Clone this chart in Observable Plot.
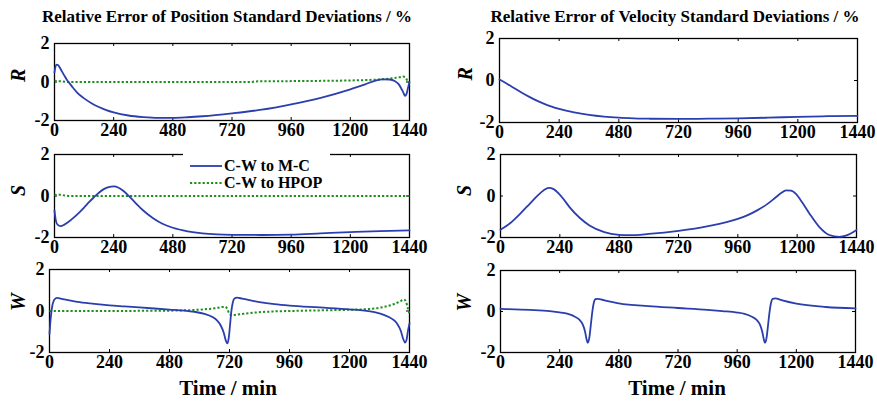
<!DOCTYPE html>
<html>
<head>
<meta charset="utf-8">
<script src="https://cdn.jsdelivr.net/npm/d3@7"></script>
<script src="https://cdn.jsdelivr.net/npm/@observablehq/plot@0.6"></script>
<style>
  html, body { margin: 0; padding: 0; background: #fff; }
  #root { position: relative; width: 877px; height: 402px; overflow: hidden; font-family: "Liberation Serif", "Times New Roman", serif; }
  .panel { position: absolute; }
  .title { position: absolute; font-weight: bold; font-size: 17px; line-height: 20px; white-space: nowrap; transform: translateX(-50%); }
  .xlab { position: absolute; font-weight: bold; font-size: 21px; line-height: 22px; white-space: nowrap; transform: translateX(-50%); }
  .legend { position: absolute; background: #fff; font-weight: bold; font-size: 16px; white-space: nowrap; }
  .legend div { display: flex; align-items: center; height: 17px; }
  .legend svg { margin-right: 2px; flex: none; }
</style>
</head>
<body>
<div id="root"></div>
<script>
// ---------- data ----------
const xTicks = [0, 240, 480, 720, 960, 1200, 1440];
const yTicks = [-2, 0, 2];
const seriesNames = ["C-W to M-C", "C-W to HPOP"];
const rowLabels = ["R", "S", "W"];
const titles = ["Relative Error of Position Standard Deviations / %", "Relative Error of Velocity Standard Deviations / %"];
const xLabel = "Time / min";

// Position R
const posR_mc_t = [0, 4, 8, 14, 20, 30, 40, 50, 60, 75, 90, 105, 120, 150, 180, 210, 240, 300, 360, 420, 480, 540, 600, 720, 840, 960, 1080, 1200, 1260, 1300, 1330, 1360, 1380, 1395, 1405, 1415, 1422, 1428, 1434, 1440];
const posR_mc   = [0.5, 0.8, 0.9, 0.88, 0.78, 0.55, 0.33, 0.12, -0.05, -0.3, -0.52, -0.7, -0.85, -1.1, -1.3, -1.46, -1.58, -1.74, -1.82, -1.86, -1.86, -1.83, -1.78, -1.63, -1.44, -1.16, -0.82, -0.38, -0.12, 0.06, 0.14, 0.13, 0.05, -0.1, -0.3, -0.55, -0.72, -0.62, -0.3, 0.0];
const posR_hp_t = [0, 20, 60, 200, 400, 600, 800, 810, 1000, 1200, 1300, 1360, 1400, 1415, 1425, 1432, 1440];
const posR_hp   = [0.06, 0.04, 0.0, 0.0, 0.0, 0.0, 0.0, 0.03, 0.05, 0.08, 0.12, 0.18, 0.25, 0.28, 0.22, 0.05, -0.05];

// Position S
const posS_mc_t = [0, 5, 12, 25, 40, 60, 80, 100, 120, 140, 160, 180, 200, 220, 240, 260, 280, 300, 330, 360, 400, 440, 480, 540, 600, 660, 720, 840, 960, 1080, 1200, 1320, 1440];
const posS_mc   = [-0.7, -1.15, -1.38, -1.45, -1.38, -1.22, -1.02, -0.8, -0.56, -0.3, -0.06, 0.16, 0.33, 0.43, 0.46, 0.4, 0.24, 0.02, -0.35, -0.7, -1.07, -1.35, -1.53, -1.7, -1.8, -1.85, -1.87, -1.88, -1.86, -1.8, -1.74, -1.69, -1.66];
const posS_hp_t = [0, 20, 40, 60, 400, 800, 1200, 1440];
const posS_hp   = [0.05, 0.06, 0.03, 0.0, 0.0, 0.0, 0.0, 0.0];

// Position W
const posW_mc_t = [0, 3, 7, 12, 18, 25, 30, 45, 60, 90, 120, 180, 240, 300, 360, 420, 480, 540, 580, 620, 650, 670, 685, 697, 706, 712, 717, 722, 727, 733, 740, 750, 770, 800, 840, 900, 960, 1080, 1200, 1260, 1300, 1340, 1370, 1390, 1405, 1415, 1422, 1428, 1434, 1440];
const posW_mc   = [-1.1, -0.6, -0.1, 0.3, 0.52, 0.61, 0.63, 0.6, 0.56, 0.49, 0.43, 0.34, 0.27, 0.22, 0.17, 0.12, 0.07, 0.02, -0.04, -0.14, -0.28, -0.45, -0.7, -1.05, -1.45, -1.56, -1.3, -0.7, -0.05, 0.4, 0.6, 0.64, 0.6, 0.52, 0.43, 0.33, 0.26, 0.17, 0.08, 0.02, -0.06, -0.2, -0.38, -0.6, -0.95, -1.35, -1.52, -1.4, -0.95, -0.6];
const posW_hp_t = [0, 200, 400, 500, 560, 620, 660, 690, 703, 712, 720, 730, 760, 800, 850, 900, 960, 1080, 1200, 1280, 1330, 1370, 1400, 1418, 1426, 1433, 1440];
const posW_hp   = [0.0, 0.0, 0.01, 0.02, 0.04, 0.08, 0.13, 0.19, 0.2, 0.08, -0.15, -0.2, -0.16, -0.1, -0.05, -0.02, 0.0, 0.03, 0.06, 0.1, 0.18, 0.3, 0.45, 0.55, 0.45, 0.15, -0.15];

// Velocity R
const velR_mc_t = [0, 30, 60, 90, 120, 150, 180, 210, 240, 300, 360, 420, 480, 540, 600, 720, 840, 960, 1080, 1200, 1320, 1440];
const velR_mc   = [0.05, -0.15, -0.37, -0.58, -0.78, -0.96, -1.11, -1.24, -1.35, -1.52, -1.64, -1.72, -1.77, -1.8, -1.82, -1.83, -1.82, -1.8, -1.77, -1.73, -1.7, -1.68];

// Velocity S
const velS_mc_t = [0, 40, 80, 120, 150, 175, 195, 215, 235, 255, 280, 320, 360, 420, 480, 520, 600, 720, 840, 960, 1000, 1040, 1080, 1110, 1135, 1155, 1175, 1195, 1220, 1250, 1290, 1330, 1370, 1400, 1440];
const velS_mc   = [-1.63, -1.3, -0.85, -0.35, 0.02, 0.28, 0.39, 0.33, 0.13, -0.15, -0.55, -1.05, -1.42, -1.74, -1.87, -1.89, -1.83, -1.68, -1.45, -1.1, -0.92, -0.68, -0.38, -0.1, 0.14, 0.27, 0.26, 0.1, -0.3, -0.85, -1.5, -1.88, -1.97, -1.9, -1.64];

// Velocity W
const velW_mc_t = [0, 120, 200, 240, 280, 300, 320, 333, 343, 349, 354, 360, 366, 372, 378, 385, 395, 420, 480, 600, 720, 840, 900, 960, 990, 1020, 1040, 1053, 1062, 1068, 1073, 1079, 1085, 1091, 1097, 1104, 1115, 1140, 1200, 1320, 1440];
const velW_mc   = [0.13, 0.08, 0.02, -0.04, -0.14, -0.24, -0.4, -0.62, -0.98, -1.35, -1.53, -1.3, -0.7, -0.05, 0.4, 0.6, 0.62, 0.55, 0.4, 0.26, 0.17, 0.08, 0.02, -0.05, -0.12, -0.26, -0.42, -0.65, -1.0, -1.35, -1.53, -1.3, -0.7, -0.05, 0.4, 0.62, 0.64, 0.55, 0.38, 0.22, 0.15];

// ---------- drawing ----------
const BLUE = "#2b3ead";
const GREEN = "#1f8f1f";
const DASH = "2.2,2";
const root = document.getElementById("root");

function toRows(t, v) { return t.map((x, i) => ({t: x, v: v[i]})); }

function panel({fx, fy, fw, fh, label, labelDx, mc, hp}) {
  const mL = 50, mR = 20, mT = 8, mB = 26;
  const marks = [
    Plot.frame({stroke: "#000", strokeWidth: 1.3}),
    Plot.tickX(xTicks, {x: d => d, insetTop: fh - 3, stroke: "#000"}),
    Plot.tickX(xTicks, {x: d => d, insetBottom: fh - 3, stroke: "#000"}),
    Plot.tickY(yTicks, {y: d => d, insetRight: fw - 3, stroke: "#000"}),
    Plot.tickY(yTicks, {y: d => d, insetLeft: fw - 3, stroke: "#000"}),
  ];
  if (hp) marks.push(Plot.line(toRows(hp[0], hp[1]), {x: "t", y: "v", stroke: GREEN, strokeWidth: 2, strokeDasharray: DASH, strokeLinecap: "butt", curve: "monotone-x"}));
  marks.push(Plot.line(toRows(mc[0], mc[1]), {x: "t", y: "v", stroke: BLUE, strokeWidth: 1.8, curve: "monotone-x"}));
  marks.push(Plot.text([label], {text: d => d, frameAnchor: "left", dx: -labelDx, rotate: -90, fontStyle: "italic", fontWeight: "bold", fontSize: 20, fill: "#000"}));
  const svg = Plot.plot({
    width: fw + mL + mR,
    height: fh + mT + mB,
    marginLeft: mL, marginRight: mR, marginTop: mT, marginBottom: mB,
    style: {fontFamily: "Liberation Serif", fontWeight: "bold", fontSize: "18px", color: "#000", background: "transparent", overflow: "visible"},
    x: {domain: [0, 1440], ticks: xTicks, tickSize: 0, tickPadding: 3, tickFormat: d => String(d), label: null},
    y: {domain: [-2, 2], ticks: yTicks, tickSize: 0, tickPadding: 5, tickFormat: d => String(d), label: null},
    marks
  });
  const wrap = document.createElement("div");
  wrap.className = "panel";
  wrap.style.left = (fx - mL) + "px";
  wrap.style.top = (fy - mT) + "px";
  wrap.appendChild(svg);
  root.appendChild(wrap);
}

// Left column (position)
panel({fx: 54, fy: 43, fw: 355, fh: 77, label: rowLabels[0], labelDx: 36, mc: [posR_mc_t, posR_mc], hp: [posR_hp_t, posR_hp]});
panel({fx: 54, fy: 154, fw: 355, fh: 83, label: rowLabels[1], labelDx: 36, mc: [posS_mc_t, posS_mc], hp: [posS_hp_t, posS_hp]});
panel({fx: 49, fy: 269, fw: 360, fh: 83, label: rowLabels[2], labelDx: 31, mc: [posW_mc_t, posW_mc], hp: [posW_hp_t, posW_hp]});
// Right column (velocity)
panel({fx: 499, fy: 38, fw: 358, fh: 84, label: rowLabels[0], labelDx: 34, mc: [velR_mc_t, velR_mc]});
panel({fx: 500, fy: 154, fw: 356, fh: 83, label: rowLabels[1], labelDx: 36, mc: [velS_mc_t, velS_mc]});
panel({fx: 500, fy: 270, fw: 355, fh: 82, label: rowLabels[2], labelDx: 36, mc: [velW_mc_t, velW_mc]});

function addDiv(cls, text, left, top) {
  const d = document.createElement("div");
  d.className = cls; d.textContent = text;
  d.style.left = left + "px"; d.style.top = top + "px";
  root.appendChild(d);
  return d;
}
addDiv("title", titles[0], 227, 7);
addDiv("title", titles[1], 675, 7);
addDiv("xlab", xLabel, 228, 377);
addDiv("xlab", xLabel, 677, 377);

// Legend
const leg = document.createElement("div");
leg.className = "legend";
leg.style.left = "183px"; leg.style.top = "153px"; leg.style.padding = "4px 8px 3px 7px";
[[BLUE, null, 1.8], [GREEN, DASH, 2]].forEach(([c, dash, sw], i) => {
  const row = document.createElement("div");
  row.innerHTML = `<svg width="32" height="6"><line x1="0" x2="32" y1="3" y2="3" stroke="${c}" stroke-width="${sw}" ${dash ? `stroke-dasharray="${dash}"` : ""}/></svg><span>${seriesNames[i]}</span>`;
  leg.appendChild(row);
});
root.appendChild(leg);
</script>
</body>
</html>
